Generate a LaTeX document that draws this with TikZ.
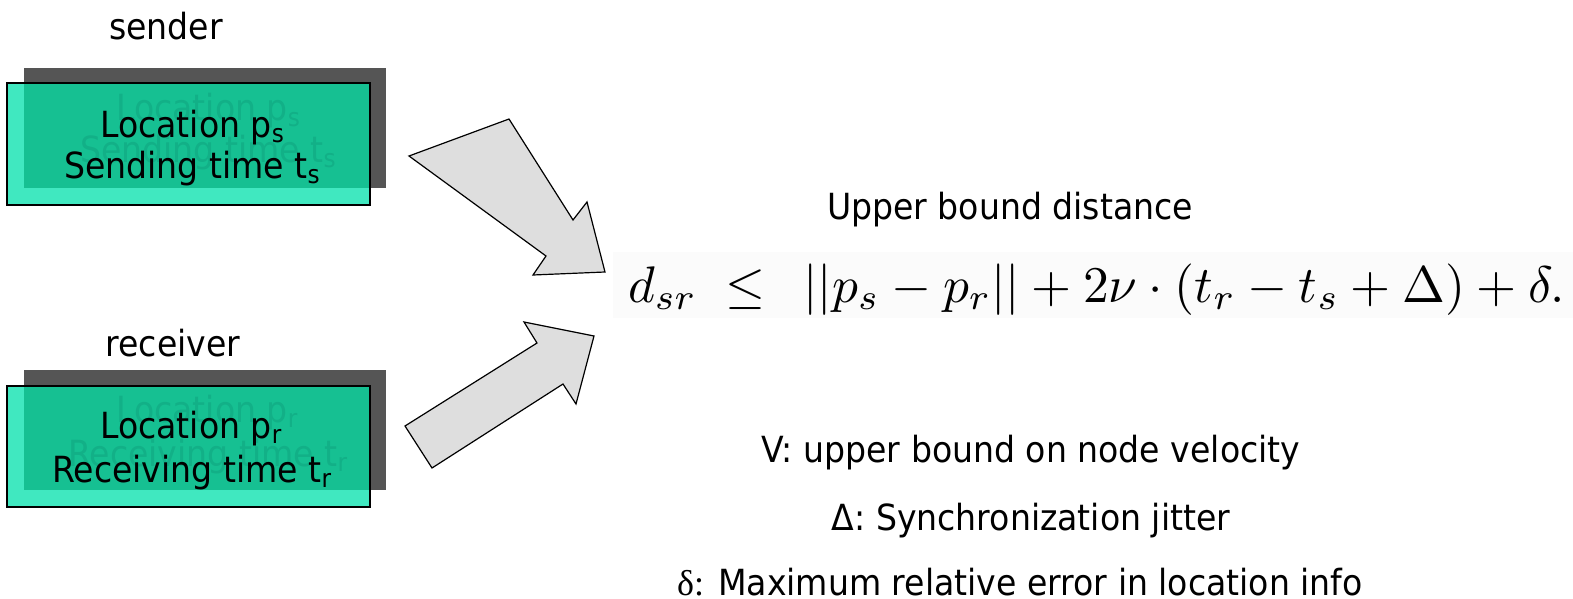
\documentclass[tikz,border=0pt]{standalone}
\usepackage{fontspec}
\usepackage{graphicx}
\setmainfont{DejaVu Sans}[FakeStretch=0.92]
\newfontfamily\serifgr{Liberation Serif}
\definecolor{boxlight}{HTML}{40E8C0}
\definecolor{boxdark}{HTML}{16C092}
\definecolor{ghost}{HTML}{12B087}
\definecolor{shadowgray}{HTML}{555555}
\definecolor{arrowgray}{HTML}{DEDEDE}
\definecolor{eqback}{HTML}{FBFBFB}
\tikzset{
  lbl/.style={font=\fontsize{36}{40}\selectfont, inner sep=0pt, anchor=base},
  boxtxt/.style={font=\fontsize{36}{41}\selectfont, inner sep=0pt, anchor=base west},
  ghosttxt/.style={boxtxt, text=ghost},
  blockarrow/.style={draw=black, line width=1.2pt, fill=arrowgray, line join=miter},
}
\begin{document}
\begin{tikzpicture}[x=1pt,y=-1pt]
\useasboundingbox (0,0) rectangle (1573,599);
% sender
\node[lbl] (sender) at (166,40) {sender};
\fill[shadowgray] (24,68) rectangle (386,188);
\fill[boxlight] (7,83) rectangle (370,205);
\fill[boxdark] (24,83) rectangle (370,188);
\node[ghosttxt] (gs1) at (116,121) {Location p\textsubscript{s}};
\node[ghosttxt] (gs2) at (80,162) {Sending time t\textsubscript{s}};
\draw[line width=1.5pt] (7,83) rectangle (370,205);
\node[boxtxt] (s1) at (100,137) {Location p\textsubscript{s}};
\node[boxtxt] (s2) at (64,178) {Sending time t\textsubscript{s}};
% receiver
\node[lbl] (receiver) at (173,356) {receiver};
\fill[shadowgray] (24,370) rectangle (386,490);
\fill[boxlight] (7,386) rectangle (370,507);
\fill[boxdark] (24,386) rectangle (370,490);
\node[ghosttxt] (gr1) at (116,422) {Location p\textsubscript{r}};
\node[ghosttxt] (gr2) at (68,466) {Receiving time t\textsubscript{r}};
\draw[line width=1.5pt] (7,386) rectangle (370,507);
\node[boxtxt] (r1) at (100,438) {Location p\textsubscript{r}};
\node[boxtxt] (r2) at (52,482) {Receiving time t\textsubscript{r}};
% block arrows
\draw[blockarrow] (509,119) -- (573,220) -- (587,202) -- (605,272) -- (533,275) -- (546,256) -- (409,156) -- cycle;
\draw[blockarrow] (405,426) -- (537,343) -- (524,322) -- (594,336) -- (576,404) -- (563,384) -- (432,468) -- cycle;
% formula
\node[lbl] (ubd) at (1010,219) {Upper bound distance};
\fill[eqback] (613,252) rectangle (1573,318);
\node[inner sep=0pt, anchor=base west] (eq) at (628,302) {\resizebox{936pt}{!}{$d_{sr}\;\leq\ \,||p_s-p_r||+2\nu\cdot(t_r-t_s+\Delta)+\delta.$}};
% legend
\node[lbl] (l1) at (1031,462) {V: upper bound on node velocity};
\node[lbl] (l2) at (1031,530) {Δ: Synchronization jitter};
\node[lbl] (l3) at (1020,595) {{\serifgr δ:} Maximum relative error in location info};
\end{tikzpicture}
\end{document}
